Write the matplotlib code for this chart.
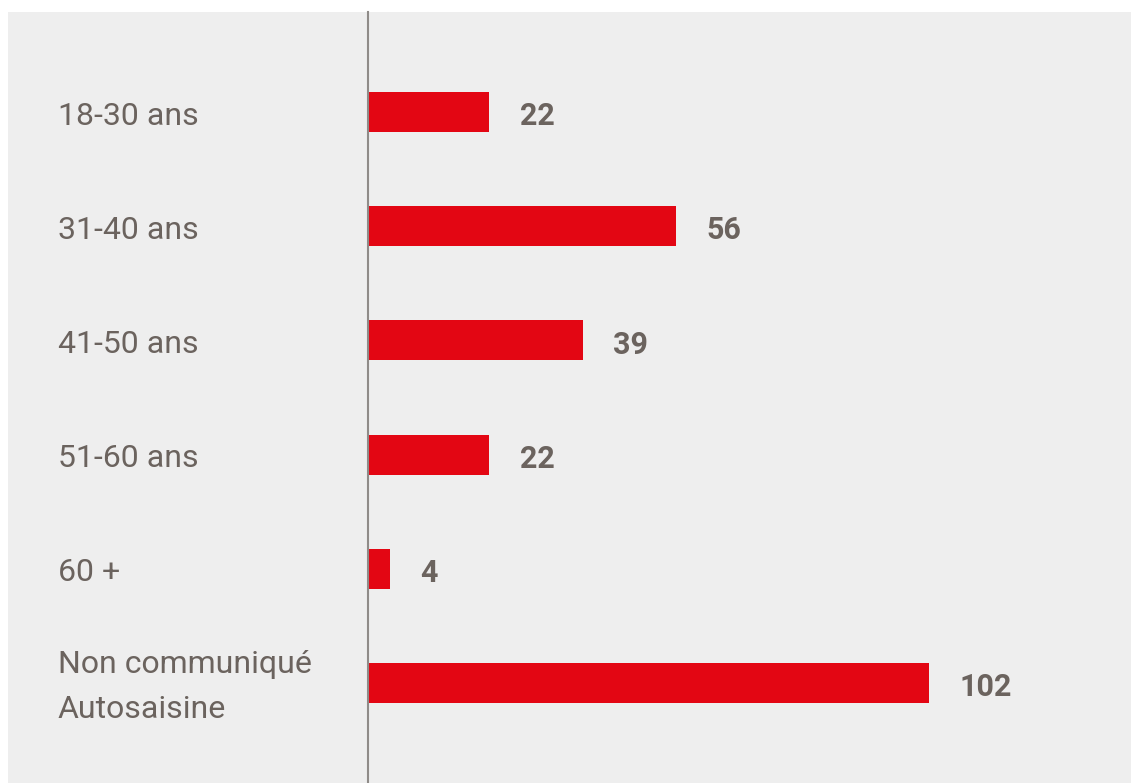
import matplotlib
matplotlib.use("Agg")
import matplotlib.pyplot as plt
import matplotlib.transforms as mtransforms

categories = ["18-30 ans", "31-40 ans", "41-50 ans", "51-60 ans", "60+", "Non communiqué\nAutosaisine"]
values = [22, 56, 39, 22, 4, 102]

W, H = 1131, 783
BG = "#eeeeee"
RED = "#e30613"
TXT = "#6b635e"

fig = plt.figure(figsize=(W / 100, H / 100), dpi=100)
fig.patch.set_facecolor("white")

bg = fig.add_axes([8 / W, 0, 1 - 8 / W, 1 - 12 / H], zorder=0)
bg.set_facecolor(BG)
bg.set_xticks([])
bg.set_yticks([])
for s in bg.spines.values():
    s.set_visible(False)

ax = fig.add_axes([368 / W, 0, 1 - 368 / W, 1 - 12 / H], zorder=1)
ax.set_facecolor("none")
ypos = list(range(len(categories)))
ax.barh(ypos, values, height=0.35, color=RED, zorder=2)
ax.set_xlim(0, (W - 368) / 5.5)
ax.set_ylim(len(categories) - 1 + 0.876, -0.876)
for s in ["top", "right", "bottom"]:
    ax.spines[s].set_visible(False)
ax.spines["left"].set_color("#8f8b88")
ax.spines["left"].set_linewidth(1.5)
ax.set_xticks([])
ax.set_yticks([])

for y, v in zip(ypos, values):
    ax.annotate(str(v), xy=(v, y), xytext=(22, -3), textcoords="offset points",
                ha="left", va="center", fontsize=22, fontweight="bold",
                color=TXT, family=["Roboto", "DejaVu Sans"])

trans = mtransforms.blended_transform_factory(fig.transFigure, ax.transData)
for y, c in zip(ypos, categories):
    ax.annotate(c.replace("+", " +") if c == "60+" else c, xy=(58 / W, y), xycoords=trans,
                xytext=(0, -3), textcoords="offset points", ha="left", va="center",
                fontsize=23, fontweight="normal", color=TXT, family=["Roboto", "DejaVu Sans"],
                linespacing=1.7, annotation_clip=False)

fig.savefig("out.png", dpi=100, facecolor=fig.get_facecolor())
